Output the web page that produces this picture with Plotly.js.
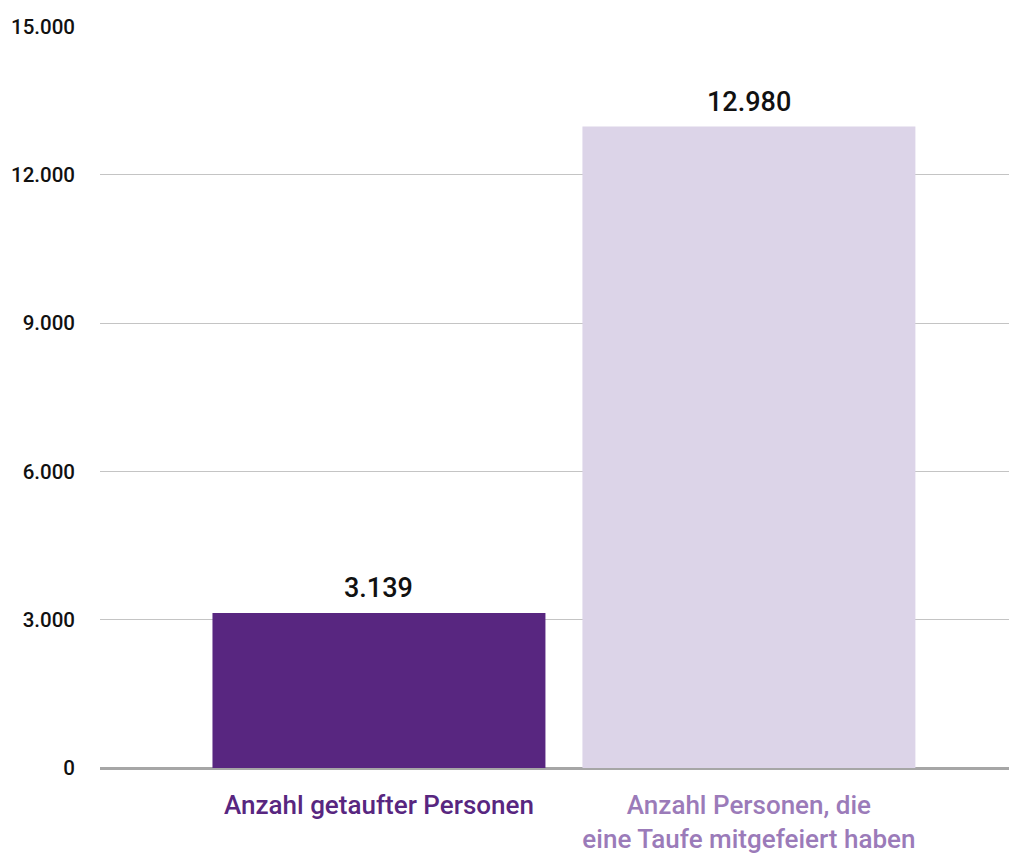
<!DOCTYPE html>
<html>
<head>
<meta charset="utf-8">
<script src="https://cdn.plot.ly/plotly-3.0.1.min.js"></script>
<style>html,body{margin:0;padding:0;background:#fff;}#chart{width:1011px;height:865px;}</style>
</head>
<body>
<div id="chart"></div>
<script>
const categories = ["Anzahl getaufter Personen", "Anzahl Personen, die<br>eine Taufe mitgefeiert haben"];
const values = [3139, 12980];
const barColors = ["#582680", "#dcd4e8"];
const labelColors = ["#582680", "#9b7bb9"];
const yTickVals = [0, 3000, 6000, 9000, 12000, 15000];

const FONT = "Roboto, 'Liberation Sans', sans-serif";

function fmtDE(v) {
  return String(Math.round(v)).replace(/\B(?=(\d{3})+(?!\d))/g, ".");
}

const xPos = categories.map((c, i) => i);

const trace = {
  type: "bar",
  x: xPos,
  y: values,
  width: 0.9,
  marker: {color: barColors},
  hoverinfo: "skip"
};

const valueAnnotations = values.map((v, i) => ({
  x: xPos[i], y: v, xref: "x", yref: "y",
  text: fmtDE(v),
  showarrow: false,
  yanchor: "bottom",
  yshift: 7,
  font: {family: FONT, size: 27, color: "#111", weight: 500}
}));

const layout = {
  width: 1011, height: 865,
  margin: {l: 100, r: 2, t: 26, b: 97},
  paper_bgcolor: "#fff", plot_bgcolor: "#fff",
  separators: ",.",
  showlegend: false,
  font: {family: FONT, color: "#111"},
  annotations: valueAnnotations,
  xaxis: {
    range: [-0.754, 1.703],
    tickvals: xPos,
    ticktext: categories.map((c, i) => `<span style="color:${labelColors[i]}">${c}</span>`),
    tickfont: {family: FONT, size: 26, weight: 500},
    tickangle: 0,
    ticklabelstandoff: 19,
    showgrid: false, zeroline: false, showline: false, ticks: "",
    automargin: false,
    fixedrange: true
  },
  yaxis: {
    range: [0, 15015],
    tickvals: yTickVals,
    tickformat: ",d",
    tickfont: {family: FONT, size: 20.5, color: "#111", weight: 500},
    ticklabelstandoff: 24,
    showgrid: true, gridcolor: "#c4c4c4", gridwidth: 1,
    zeroline: true, zerolinecolor: "#a6a6a6", zerolinewidth: 3,
    showline: false, ticks: "",
    automargin: false,
    fixedrange: true
  }
};

Plotly.newPlot("chart", [trace], layout, {displayModeBar: false, staticPlot: true});
</script>
</body>
</html>
